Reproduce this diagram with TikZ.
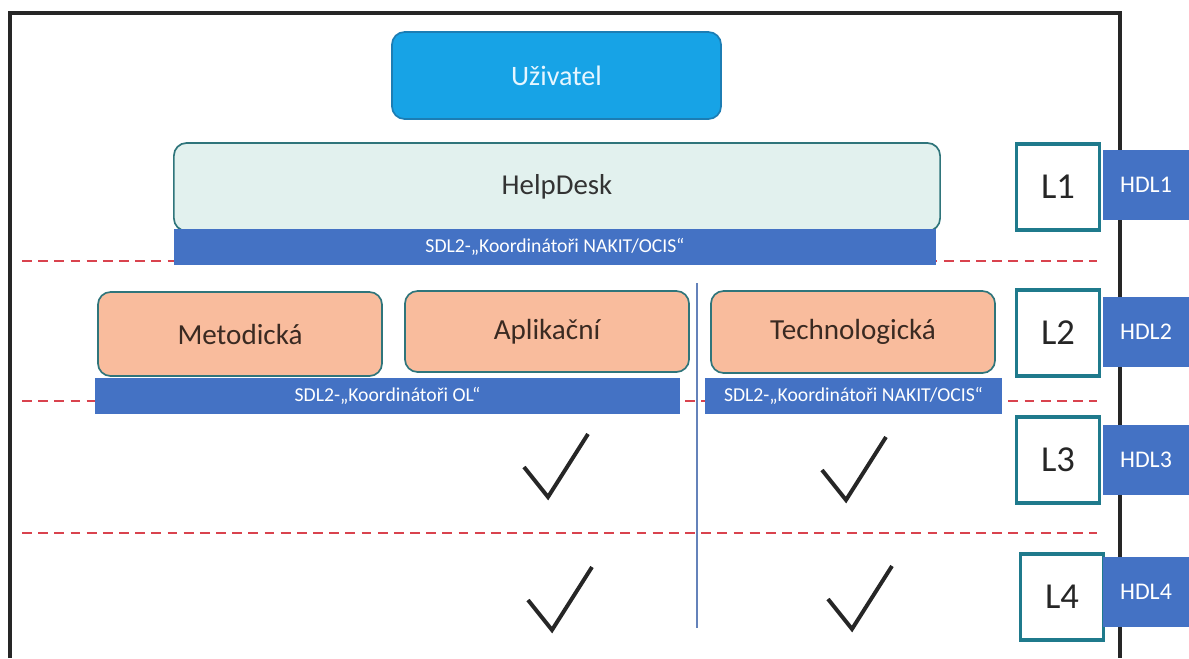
\documentclass[tikz,border=0pt]{standalone}
\usepackage{fontspec}
\setmainfont{Carlito}
\usepackage{tikz}
\usetikzlibrary{positioning}

\definecolor{userblue}{HTML}{17A3E6}
\definecolor{userline}{HTML}{1C7DB4}
\definecolor{usertext}{HTML}{E6F6FF}
\definecolor{hdfill}{HTML}{E2F1EE}
\definecolor{tealline}{HTML}{2F757B}
\definecolor{peach}{HTML}{F9BC9D}
\definecolor{peachtext}{HTML}{3A2A22}
\definecolor{barblue}{HTML}{4472C4}
\definecolor{lvline}{HTML}{1F7A8C}
\definecolor{dashred}{HTML}{D9434E}
\definecolor{splitblue}{HTML}{6482BA}

\begin{document}
\begin{tikzpicture}[x=0.025cm,y=-0.025cm,
  rbox/.style={draw,rounded corners=9pt,line width=1.2pt,align=center,inner sep=2pt},
  group/.style={rbox,draw=tealline,fill=peach,text=peachtext,minimum width=7.1cm,font=\fontsize{20.7}{24}\selectfont},
  sdlbar/.style={fill=barblue,text=white,minimum height=0.9cm,inner sep=0pt,font=\fontsize{14}{17}\selectfont},
  lvbox/.style={draw=lvline,line width=2.2pt,fill=white,minimum width=2.075cm,minimum height=2.15cm,font=\fontsize{26}{30}\selectfont,text=black!85},
  hdlbox/.style={fill=barblue,text=white,minimum width=2.15cm,minimum height=1.75cm,inner sep=0pt,font=\fontsize{17}{20}\selectfont},
  sep/.style={draw=dashred,line width=1.3pt,dash pattern=on 7pt off 4.5pt},
  tick/.style={draw=black!85,line width=2.8pt}]
\useasboundingbox (0,0) rectangle (1189,658);

% frame
\draw[line width=2.6pt,black!85] (10,658) -- (10,13) -- (1120,13) -- (1120,658);

% level separators
\draw[sep] (22,261) -- (1097,261);
\draw[sep] (22,401) -- (1097,401);
\draw[sep] (22,533) -- (1097,533);
\draw[splitblue,line width=0.8pt] (697,283) -- (697,628);

\node[rbox,draw=userline,fill=userblue,text=usertext,minimum width=8.225cm,minimum height=2.175cm,font=\fontsize{20}{24}\selectfont] (user) at (556.5,75.5) {Uživatel};
\node[rbox,draw=tealline,fill=hdfill,text=black!80,minimum width=19.15cm,minimum height=2.2cm,font=\fontsize{20.5}{24}\selectfont] (hd) at (557,187) {HelpDesk};
\node[sdlbar,minimum width=19.05cm] (sdl0) at (555,247) {SDL2-„Koordinátoři NAKIT/OCIS“};

\node[group,minimum height=2.1cm] (met) at (240,334) {Metodická};
\node[group,minimum height=2.025cm] (apl) at (547,331.5) {Aplikační};
\node[group,minimum height=2.05cm] (tech) at (853,332) {Technologická};
\node[sdlbar,minimum width=14.625cm] (sdl1) at (387.5,396) {SDL2-„Koordinátoři OL“};
\node[sdlbar,minimum width=7.425cm] (sdl2) at (853.5,396) {SDL2-„Koordinátoři NAKIT/OCIS“};

% level boxes
\node[lvbox] (l1) at (1058,187) {L1};
\node[lvbox] (l2) at (1058,333) {L2};
\node[lvbox] (l3) at (1058,460) {L3};
\node[lvbox] (l4) at (1062,597) {L4};
\node[hdlbox] (hdl1) at (1146,185) {HDL1};
\node[hdlbox] (hdl2) at (1146,332) {HDL2};
\node[hdlbox] (hdl3) at (1146,460) {HDL3};
\node[hdlbox] (hdl4) at (1146,592) {HDL4};

% ticks
\draw[tick] (524,467) -- (548,497) -- (588,434);
\draw[tick] (822,470) -- (846,500) -- (886,437);
\draw[tick] (528,600) -- (552,630) -- (592,567);
\draw[tick] (828,599) -- (852,629) -- (892,566);
\end{tikzpicture}
\end{document}
